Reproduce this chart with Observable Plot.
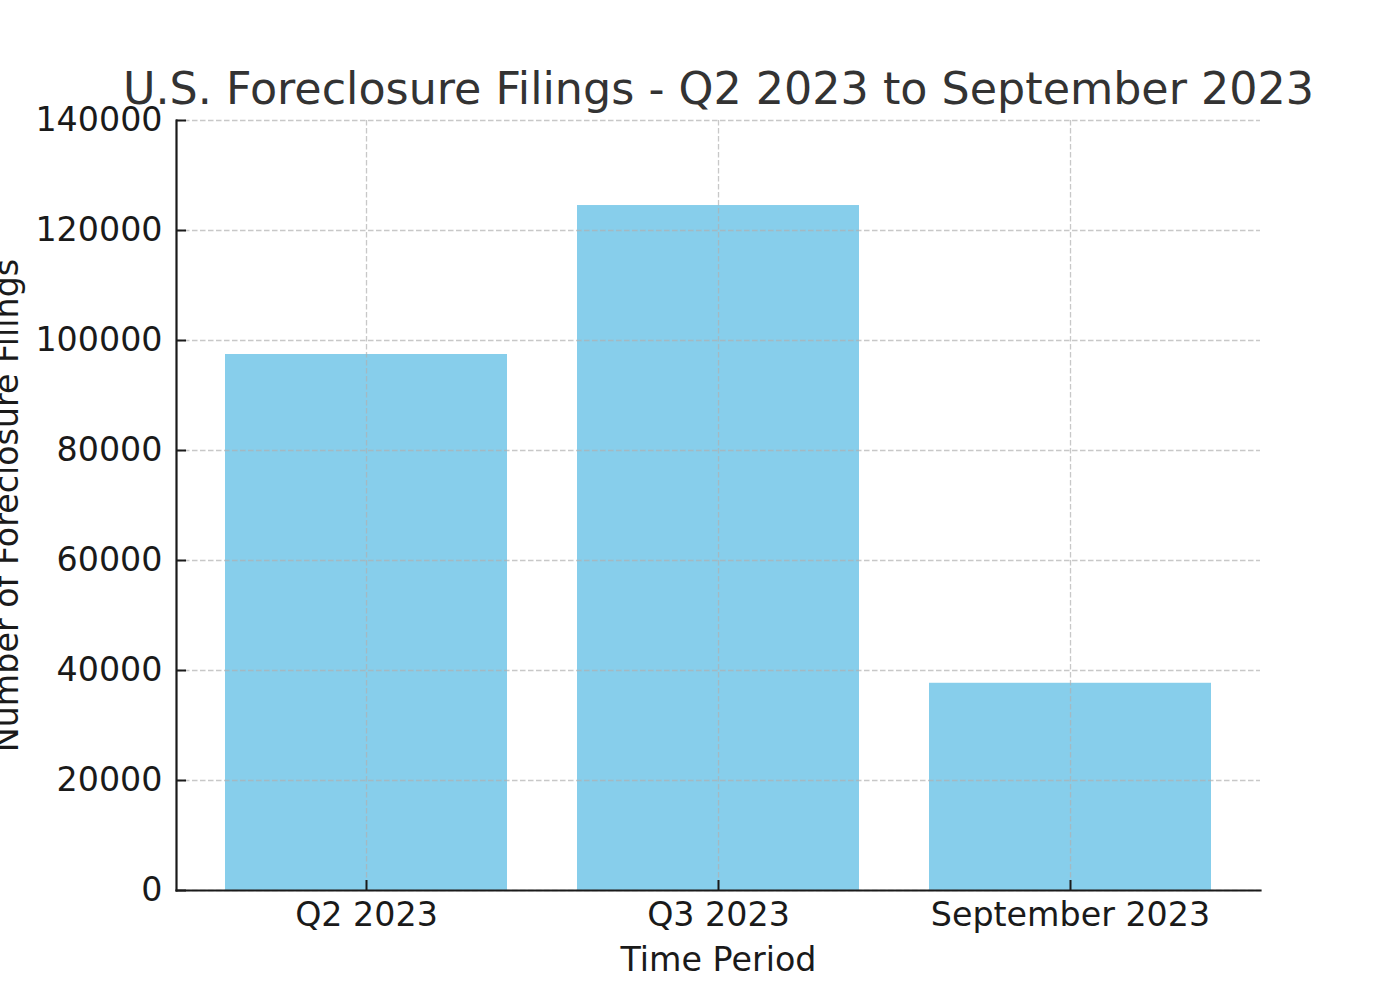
<!DOCTYPE html>
<html>
<head>
<meta charset="utf-8">
<script src="https://cdn.jsdelivr.net/npm/d3@7"></script>
<script src="https://cdn.jsdelivr.net/npm/@observablehq/plot@0.6"></script>
<style>
  html, body { margin: 0; padding: 0; background: #fff; }
  #chart svg { display: block; }
</style>
</head>
<body>
<div id="chart"></div>
<script>
const periods = ["Q2 2023", "Q3 2023", "September 2023"];
const filings = [97455, 124539, 37679];
const yTicks = [0, 20000, 40000, 60000, 80000, 100000, 120000, 140000];
const title = "U.S. Foreclosure Filings - Q2 2023 to September 2023";
const xLabel = "Time Period";
const yLabel = "Number of Foreclosure Filings";

const data = periods.map((p, i) => ({period: p, value: filings[i]}));

const gridStyle = {stroke: "#b0b0b0", strokeOpacity: 0.7, strokeWidth: 1.3, strokeDasharray: "5.5,2.5"};

const chart = Plot.plot({
  width: 1400,
  height: 1000,
  marginLeft: 176,
  marginRight: 140,
  marginTop: 120,
  marginBottom: 110,
  style: {fontFamily: "'DejaVu Sans', sans-serif", fontSize: "33.3px", color: "#1a1a1a", background: "#fff"},
  x: {type: "band", domain: periods, paddingInner: 0.2, paddingOuter: 0.1375, label: null},
  y: {domain: [0, 140000], label: null},
  marks: [
    Plot.barY(data, {x: "period", y: "value", fill: "#87CEEB"}),
    Plot.gridY(yTicks, {...gridStyle}),
    Plot.gridX(periods, {...gridStyle}),
    Plot.axisY(yTicks, {tickSize: 0, tickPadding: 14, tickFormat: d => String(d), fill: "#1a1a1a"}),
    Plot.axisY(yTicks, {tickSize: 10, dx: 10, text: null, stroke: "#1a1a1a", strokeWidth: 2}),
    Plot.axisX(periods, {tickSize: 0, tickPadding: 12, fill: "#1a1a1a"}),
    Plot.axisX(periods, {tickSize: 10, dy: -10, text: null, stroke: "#1a1a1a", strokeWidth: 2}),
    Plot.frame({anchor: "left", stroke: "#1a1a1a", strokeWidth: 2.2}),
    Plot.frame({anchor: "bottom", stroke: "#1a1a1a", strokeWidth: 2.2}),
    Plot.text([title], {frameAnchor: "top", dy: -17, lineAnchor: "bottom", fontSize: 44.4, fill: "#333333"}),
    Plot.text([xLabel], {frameAnchor: "bottom", dy: 80, lineAnchor: "bottom", fontSize: 33.3, fill: "#1a1a1a"}),
    Plot.text([yLabel], {frameAnchor: "left", dx: -159, rotate: -90, textAnchor: "middle", lineAnchor: "bottom", fontSize: 33.3, fill: "#1a1a1a"})
  ]
});

document.getElementById("chart").appendChild(chart);
</script>
</body>
</html>
